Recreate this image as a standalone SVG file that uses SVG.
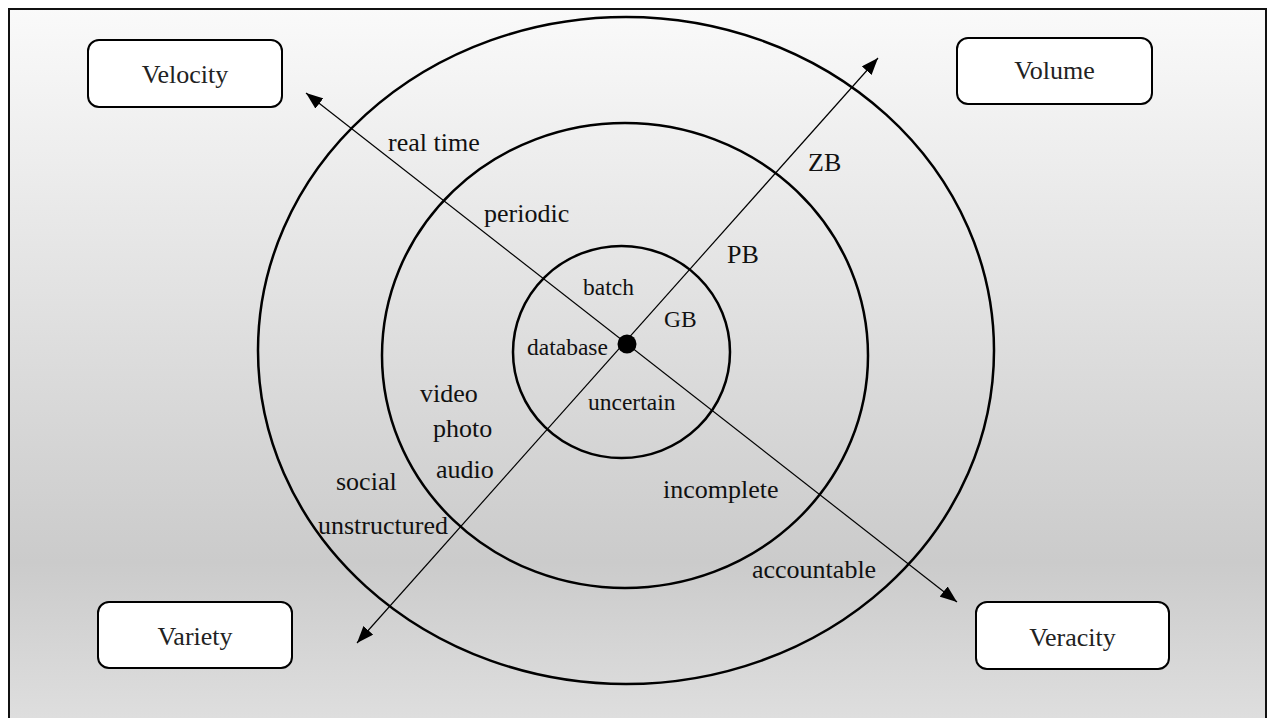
<svg xmlns="http://www.w3.org/2000/svg" width="1273" height="718" viewBox="0 0 1273 718">
  <defs>
    <linearGradient id="bg" x1="0" y1="8" x2="0" y2="718" gradientUnits="userSpaceOnUse">
      <stop offset="0" stop-color="#fafafa"/>
      <stop offset="0.78" stop-color="#cbcbcb"/>
      <stop offset="1" stop-color="#dedede"/>
    </linearGradient>
    <marker id="arrow" viewBox="0 0 17 13" refX="17" refY="6.5" markerWidth="17" markerHeight="13" markerUnits="userSpaceOnUse" orient="auto-start-reverse">
      <path d="M0,0 L17,6.5 L0,13 z" fill="#000"/>
    </marker>
  </defs>
  <style>
    .box { fill: #ffffff; stroke: #000; stroke-width: 2; }
    .ring { fill: none; stroke: #000; stroke-width: 2.5; }
    .axis { stroke: #000; stroke-width: 1.2; fill: none; marker-start: url(#arrow); marker-end: url(#arrow); }
    .t { font-family: "Liberation Serif", "Times New Roman", serif; font-size: 26px; fill: #111; }
    .s { font-family: "Liberation Serif", "Times New Roman", serif; font-size: 23.5px; fill: #111; }
    .bt { font-family: "Liberation Serif", "Times New Roman", serif; font-size: 26px; fill: #222; text-anchor: middle; }
  </style>
  <rect x="0" y="0" width="1273" height="718" fill="#ffffff"/>
  <rect id="frame" x="9" y="9" width="1257" height="720" fill="url(#bg)" stroke="#111" stroke-width="2"/>

  <g id="rings">
    <ellipse id="ring-outer" class="ring" cx="626" cy="350.5" rx="368" ry="333.5"/>
    <ellipse id="ring-middle" class="ring" cx="625" cy="355.5" rx="243" ry="232.5"/>
    <ellipse id="ring-inner" class="ring" cx="621.5" cy="352" rx="108.5" ry="106"/>
  </g>

  <g id="connectors">
    <line class="axis" x1="306" y1="93" x2="957" y2="602"/>
    <line class="axis" x1="357" y1="643" x2="878" y2="58"/>
  </g>

  <g id="center">
    <circle cx="627" cy="344" r="9.5" fill="#000"/>
  </g>

  <g id="velocity">
    <rect class="box" x="88" y="40" width="194" height="67" rx="11"/>
    <text class="bt" x="185" y="83">Velocity</text>
  </g>
  <g id="volume">
    <rect class="box" x="957" y="38" width="195" height="66" rx="11"/>
    <text class="bt" x="1054.5" y="79">Volume</text>
  </g>
  <g id="variety">
    <rect class="box" x="98" y="602" width="194" height="66" rx="11"/>
    <text class="bt" x="195" y="645">Variety</text>
  </g>
  <g id="veracity">
    <rect class="box" x="976" y="602" width="193" height="67" rx="11"/>
    <text class="bt" x="1072.5" y="646">Veracity</text>
  </g>

  <g id="labels">
    <text class="t" x="388" y="151">real time</text>
    <text class="t" x="484" y="222">periodic</text>
    <text class="s" x="583" y="295">batch</text>
    <text class="s" x="664" y="327">GB</text>
    <text class="t" x="727" y="263">PB</text>
    <text class="t" x="808" y="171">ZB</text>
    <text class="s" x="527" y="355">database</text>
    <text class="s" x="588" y="410">uncertain</text>
    <text class="t" x="420" y="402">video</text>
    <text class="t" x="433" y="437">photo</text>
    <text class="t" x="436" y="478">audio</text>
    <text class="t" x="336" y="490">social</text>
    <text class="t" x="318" y="534">unstructured</text>
    <text class="t" x="663" y="498">incomplete</text>
    <text class="t" x="752" y="578">accountable</text>
  </g>
</svg>
